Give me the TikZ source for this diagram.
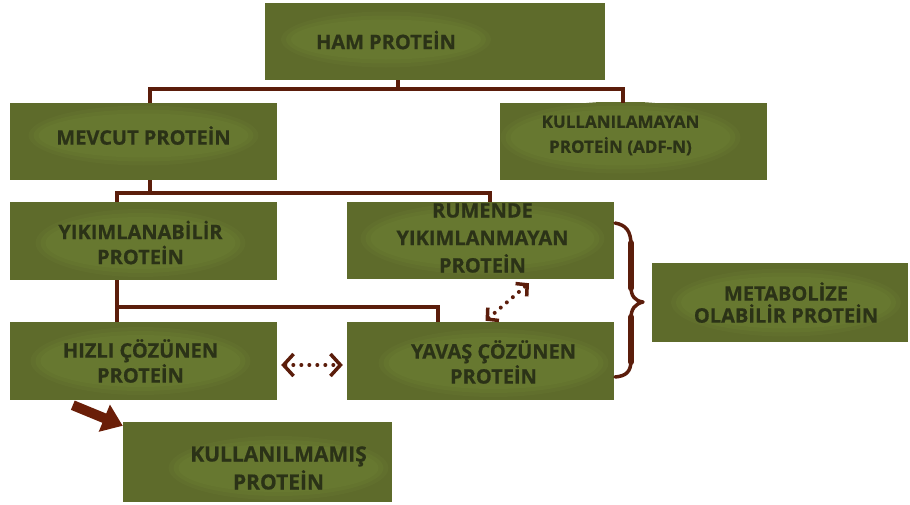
\documentclass[tikz,border=0pt]{standalone}
\usepackage{fontspec}
\setmainfont{Open Sans}[BoldFeatures={FakeBold=0.6}]
\usetikzlibrary{arrows.meta}

\definecolor{boxgreen}{HTML}{5E6B2B}
\definecolor{blobgreen}{HTML}{677830}
\definecolor{inkdark}{HTML}{2B3217}
\definecolor{linebrown}{HTML}{5B1D0B}
\definecolor{arrowbrown}{HTML}{6A1E08}

\tikzset{
  box/.style={fill=boxgreen, draw=none, inner sep=0pt,
    minimum width=267pt, minimum height=77pt},
  boxtext/.style={text=inkdark, align=center, inner sep=0pt,
    font=\bfseries\fontsize{20}{25}\selectfont},
  tree/.style={linebrown, line width=3.5pt},
  dotarrow/.style={linebrown, line width=4pt, line cap=round,
    dash pattern=on 0pt off 8pt,
    {Straight Barb[length=10pt,width=22pt,line width=3.5pt]}-{Straight Barb[length=10pt,width=22pt,line width=3.5pt]}},
  diagarrow/.style={linebrown, line width=4pt, line cap=round,
    dash pattern=on 0pt off 8pt,
    {Straight Barb[length=8pt,width=17pt,line width=3.5pt]}-{Straight Barb[length=8pt,width=17pt,line width=3.5pt]}},
  fatarrow/.style={arrowbrown, line width=10pt,
    -{Triangle[length=20pt,width=28pt]}},
  bracestroke/.style={linebrown, line cap=round, line join=round},
}

% lighter patch behind the lettering, kept inside its box
\newcommand\greenblob[5]{%
  \begin{scope}
    \clip (#1.south west) rectangle (#1.north east);
    \fill[blobgreen!35!boxgreen] ([xshift=#2,yshift=#3]#1.center)
      ellipse [x radius=#4+10pt, y radius=#5+8pt];
    \fill[blobgreen!70!boxgreen] ([xshift=#2,yshift=#3]#1.center)
      ellipse [x radius=#4+5pt, y radius=#5+4pt];
    \fill[blobgreen] ([xshift=#2,yshift=#3]#1.center)
      ellipse [x radius=#4, y radius=#5];
  \end{scope}}

\begin{document}
\begin{tikzpicture}[x=1pt,y=-1pt]
\useasboundingbox (0,0) rectangle (910,504);

% boxes
\node[box, minimum width=340pt] (ham) at (435,41.5) {};
\node[box] (mev) at (143.5,141.5) {};
\node[box] (kua) at (633.5,141.5) {};
\node[box, minimum height=78pt] (yik) at (143.5,241) {};
\node[box] (rum) at (480.5,240.5) {};
\node[box, minimum height=78pt] (hiz) at (143.5,361) {};
\node[box, minimum height=78pt] (yav) at (480.5,361) {};
\node[box, minimum width=269pt, minimum height=80pt] (kum) at (257.5,462) {};
\node[box, minimum width=256pt, minimum height=79pt] (met) at (780,302.5) {};

% soft patches
\greenblob{ham}{-49pt}{2pt}{95pt}{20pt}
\greenblob{mev}{0pt}{6pt}{105pt}{22pt}
\greenblob{kua}{-13pt}{4pt}{110pt}{28pt}
\greenblob{yik}{-3pt}{-2pt}{95pt}{26pt}
\greenblob{rum}{2pt}{2pt}{112pt}{28pt}
\greenblob{hiz}{-3pt}{0pt}{100pt}{26pt}
\greenblob{yav}{13pt}{-2pt}{105pt}{26pt}
\greenblob{met}{6pt}{0pt}{105pt}{26pt}
\greenblob{kum}{21pt}{-6pt}{100pt}{24pt}

% lettering
\node[boxtext] (hamt) at ([xshift=-49pt,yshift=1.5pt]ham.center) {HAM PROTEİN};
\node[boxtext] (mevt) at ([yshift=6pt]mev.center) {MEVCUT PROTEİN};
\node[boxtext, font=\bfseries\fontsize{17}{25}\selectfont] (kuat) at ([xshift=-13pt,yshift=6pt]kua.center) {KULLANILAMAYAN\\PROTEİN (ADF-N)};
\node[boxtext] (yikt) at ([xshift=-3pt,yshift=-1.5pt]yik.center) {YIKIMLANABİLİR\\PROTEİN};
\node[boxtext, font=\bfseries\fontsize{20}{27.5}\selectfont] (rumt) at ([xshift=2pt,yshift=2.5pt]rum.center) {RUMENDE\\YIKIMLANMAYAN\\PROTEİN};
\node[boxtext] (hizt) at ([xshift=-3pt]hiz.center) {HIZLI ÇÖZÜNEN\\PROTEİN};
\node[boxtext] (yavt) at ([xshift=13pt,yshift=-1pt]yav.center) {YAVAŞ ÇÖZÜNEN\\PROTEİN};
\node[boxtext, font=\bfseries\fontsize{20}{22}\selectfont] (mett) at ([xshift=6pt]met.center) {METABOLİZE\\OLABİLİR PROTEİN};
\node[boxtext, font=\bfseries\fontsize{21}{28}\selectfont] (kumt) at ([xshift=21pt,yshift=-6pt]kum.center) {KULLANILMAMIŞ\\PROTEİN};

% tree connectors
\draw[tree] ([xshift=-37pt]ham.south) -- ++(0,9) coordinate (j1);
\draw[tree] ([xshift=6.5pt]mev.north) |- (j1) -| ([xshift=-10.5pt]kua.north);

\draw[tree] ([xshift=6.5pt]mev.south) -- ++(0,13) coordinate (j2);
\draw[tree] ([xshift=-26.5pt]yik.north) |- (j2) -| ([xshift=9.5pt]rum.north);

\draw[tree] ([xshift=-26.5pt]yik.south) -- ([xshift=-26.5pt]hiz.north);
\draw[tree] ([xshift=-26.5pt]yik.south) ++(0,27) coordinate (j3);
\draw[tree] (j3) -| ([xshift=-42.5pt]yav.north);

% dotted two-way arrows
\draw[dotarrow] ([xshift=4pt,yshift=-4pt]hiz.east) -- ([xshift=-4pt,yshift=-4pt]yav.west);
\draw[diagarrow] ([xshift=5pt,yshift=1pt]yav.north) -- ([xshift=48.5pt,yshift=-4pt]rum.south);

% heavy arrow
\draw[fatarrow] ([xshift=63pt,yshift=-5pt]hiz.south west) -- ([yshift=-4pt]kum.north west);

% curly brace
\draw[bracestroke, line width=3.5pt]
  (615,223) .. controls (626,225) and (631,231) .. (631,245)
  -- (631,287) .. controls (631,296) and (635,301) .. (643,302)
  .. controls (635,304) and (631,309) .. (631,318)
  -- (631,360) .. controls (631,372) and (626,376) .. (615,377);
\draw[bracestroke, line width=6pt] (631,243) -- (631,288);
\draw[bracestroke, line width=6pt] (631,317) -- (631,362);
\end{tikzpicture}
\end{document}
